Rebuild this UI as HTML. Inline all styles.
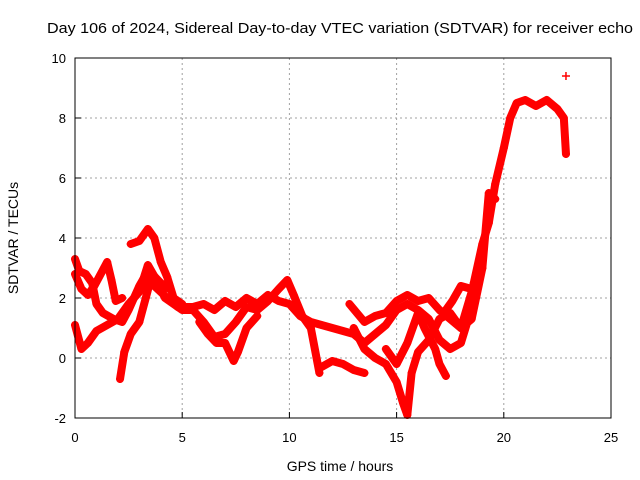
<!DOCTYPE html>
<html><head><meta charset="utf-8"><style>
body{margin:0;background:#fff;}
svg{display:block;font-family:"Liberation Sans",sans-serif;}
</style></head><body>
<svg id="chart" width="640" height="480">
<text x="47" y="33" font-size="15" textLength="586" lengthAdjust="spacingAndGlyphs" fill="#000">Day 106 of 2024, Sidereal Day-to-day VTEC variation (SDTVAR) for receiver echo</text>
<text transform="translate(18,238) rotate(-90)" text-anchor="middle" font-size="14">SDTVAR / TECUs</text>
<text x="340" y="471" text-anchor="middle" font-size="14">GPS time / hours</text>
<g id="grid"></g><g id="series"></g><g id="axes"></g>
</svg>
<script>
const xTicks=[0,5,10,15,20,25];
const yTicks=[-2,0,2,4,6,8,10];
const s1t=[0,0.2,0.5,0.8,1.0,1.3,1.8,2.2,2.5,3.0,3.4,3.7,4.0,4.3,4.8,5.5,6.0,6.5,7.0,7.5,8.0,8.5,9.0,9.5,10.0,10.5,11.0,11.5,12,12.5,13,13.5,14,14.5,15,15.5,16,16.5,17,17.5,18,18.3,18.6,19,19.3,19.6,20,20.3,20.6,21,21.5,22,22.5,22.8,22.9];
const s1v=[3.3,2.9,2.8,2.5,1.8,1.5,1.3,1.2,1.6,2.4,2.9,2.4,2.2,2.0,1.7,1.7,1.8,1.6,1.9,1.7,2.0,1.8,2.1,1.9,1.8,1.4,1.2,1.1,1.0,0.9,0.8,0.5,0.8,1.1,1.6,1.8,1.6,1.3,0.6,0.3,0.5,1.2,2.5,3.8,4.5,5.8,7.0,8.0,8.5,8.6,8.4,8.6,8.3,8.0,6.8];
const s2t=[0,0.3,0.6,1,1.5,2,2.5,3,3.4,3.8,4.2,4.6,5,5.5,6,6.5,7,7.5,8,8.5,9,9.5,9.9,10.2,10.6,11,11.4];
const s2v=[1.1,0.3,0.5,0.9,1.1,1.3,1.8,2.2,3.1,2.6,2.0,1.8,1.6,1.6,1.2,0.7,0.8,1.2,1.7,1.6,1.9,2.3,2.6,2.1,1.4,1.0,-0.5];
const s3t=[2.1,2.3,2.6,3.0,3.3,3.6,4.0,4.4];
const s3v=[-0.7,0.2,0.8,1.2,2.0,2.8,2.5,2.3];
const s4t=[2.6,3.0,3.4,3.7,4.0,4.3,4.6,5];
const s4v=[3.8,3.9,4.3,4.0,3.2,2.7,2.0,1.8];
const s5t=[0,0.3,0.6,0.9,1.2,1.5,1.7,1.9,2.2];
const s5v=[2.8,2.3,2.1,2.4,2.8,3.2,2.6,1.9,2.0];
const s6t=[5.8,6.2,6.6,7.0,7.4,7.6,8,8.5];
const s6v=[1.2,0.8,0.5,0.5,-0.1,0.2,1.0,1.4];
const s7t=[11.5,12,12.5,13,13.5];
const s7v=[-0.3,-0.1,-0.2,-0.4,-0.5];
const s8t=[13,13.5,14,14.5,15,15.3,15.5,15.7,16,16.5,17,17.5,18,18.5,19];
const s8v=[1.0,0.3,0,-0.2,-0.8,-1.5,-1.9,-0.5,0.2,0.6,1.3,1.5,1.0,2.2,3.5];
const s9t=[14.5,15,15.5,16,16.3,16.8,17,17.3];
const s9v=[0.3,-0.2,0.5,1.5,1.0,0.3,-0.2,-0.6];
const s10t=[12.8,13.5,14,14.5,15,15.5,16,16.5,17,17.5,18,18.5,19,19.3,19.6];
const s10v=[1.8,1.2,1.4,1.5,1.9,2.1,1.9,2.0,1.6,1.3,1.0,1.3,3.0,5.5,5.3];
const s11t=[17.2,17.6,18.0,18.5,19.0];
const s11v=[1.5,1.9,2.4,2.3,3.0];
const s12t=[22.9];
const s12v=[9.4];
const seriesT=[s1t,s2t,s3t,s4t,s5t,s6t,s7t,s8t,s9t,s10t,s11t,s12t];
const seriesV=[s1v,s2v,s3v,s4v,s5v,s6v,s7v,s8v,s9v,s10v,s11v,s12v];

const L=75,R=611,T=58,B=418;
const xs=t=>L+(t-0)/25*(R-L);
const ys=v=>B-(v+2)/12*(B-T);
const NS="http://www.w3.org/2000/svg";
function mk(tag,attrs,parent){const e=document.createElementNS(NS,tag);for(const k in attrs)e.setAttribute(k,attrs[k]);parent.appendChild(e);return e;}
const grid=document.getElementById('grid'),axes=document.getElementById('axes'),ser=document.getElementById('series');
xTicks.forEach(t=>{const x=xs(t);
 if(t>0&&t<25){const g=mk('line',{x1:x,y1:T,x2:x,y2:B,stroke:'#a0a0a0','stroke-dasharray':'2,3'},grid);
 
 }
 const tk=mk('line',{x1:x,y1:B,x2:x,y2:B-6,stroke:'#000'},axes);
 
 
 const tl=mk('text',{x:x,y:B+24,'text-anchor':'middle','font-size':'13'},axes);tl.textContent=t;
 
 });
yTicks.forEach(v=>{const y=ys(v);
 if(v>-2&&v<10){const g=mk('line',{x1:L,y1:y,x2:R,y2:y,stroke:'#a0a0a0','stroke-dasharray':'2,3'},grid);
 
 }
 const tk=mk('line',{x1:L,y1:y,x2:L+6,y2:y,stroke:'#000'},axes);
 
 
 const tl=mk('text',{x:L-9,y:y+5,'text-anchor':'end','font-size':'13'},axes);tl.textContent=v;
 
 });
const fr=mk('rect',{x:L,y:T,width:R-L,height:B-T,fill:'none',stroke:'#000'},axes);


seriesT.forEach((ts,i)=>{const vs=seriesV[i];
 const pts=ts.map((t,j)=>xs(t)+','+ys(vs[j])).join(' ');
 const pl=mk('polyline',{points:pts,fill:'none',stroke:'#ff0000','stroke-width':'8','stroke-linejoin':'round','stroke-linecap':'round'},ser);
 
 
 ts.forEach((t,j)=>{const x=xs(t),y=ys(vs[j]);
  const m=mk('path',{d:`M${x-4},${y}H${x+4}M${x},${y-4}V${y+4}`,stroke:'#ff0000','stroke-width':'1.5'},ser);
  
  });
});
</script>
</body></html>
